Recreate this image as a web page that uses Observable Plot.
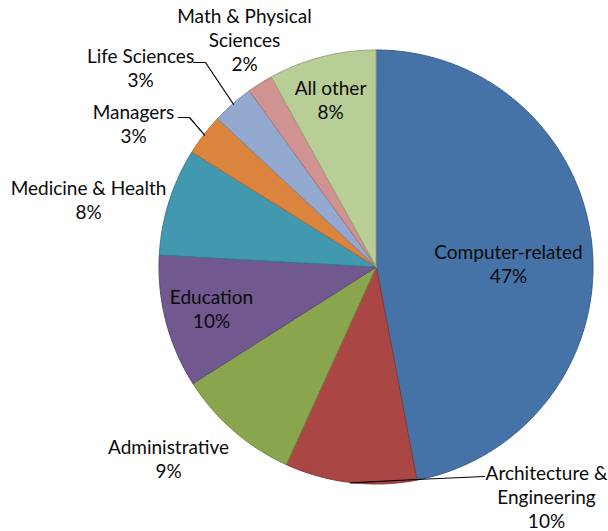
<!DOCTYPE html>
<html><head><meta charset="utf-8">
<script src="https://cdn.jsdelivr.net/npm/d3@7"></script>
<script src="https://cdn.jsdelivr.net/npm/@observablehq/plot@0.6"></script>
<style>body{margin:0;background:#fff}</style>
</head><body><div id="chart"></div>
<script>
// ---- data ----
const categories = ["Computer-related", "Architecture & Engineering", "Administrative", "Education", "Medicine & Health", "Managers", "Life Sciences", "Math & Physical Sciences", "All other"];
const shares = [47.0, 9.8, 9.2, 9.9, 8.0, 3.1, 3.1, 1.9, 8.0];
const percentLabels = ["47%", "10%", "9%", "10%", "8%", "3%", "3%", "2%", "8%"];
const labelNames = ["Computer-related", "Architecture &\nEngineering", "Administrative", "Education", "Medicine & Health", "Managers", "Life Sciences", "Math & Physical\nSciences", "All other"];
const colors = ["#4572A7", "#AA4643", "#89A54E", "#71588F", "#4198AF", "#DB843D", "#93A9CF", "#D19392", "#B9CD96"];

// ---- layout ----
const W = 608, H = 531, cx = 376, cy = 267, R = 217;
const labelLayout = [
  {x: 508, y: 263},
  {x: 546, y: 496, leader: [[484, 476], [416, 479]]},
  {x: 168, y: 458},
  {x: 211, y: 308},
  {x: 88, y: 199},
  {x: 133, y: 123, leader: [[178, 117], [189, 117]]},
  {x: 140, y: 67, leader: [[193, 62], [205, 62]]},
  {x: 244, y: 39},
  {x: 330, y: 99}
];

const arcs = d3.pie().sort(null).value(d => d)(shares);
const pt = (a, r) => [cx + r * Math.sin(a), cy - r * Math.cos(a)];

const sliceRows = [];
arcs.forEach((a, i) => {
  const n = Math.max(2, Math.ceil((a.endAngle - a.startAngle) / (Math.PI / 360)));
  for (let k = 0; k <= n; k++) {
    const ang = a.startAngle + (a.endAngle - a.startAngle) * k / n;
    const [x, y] = pt(ang, R);
    sliceRows.push({name: categories[i], x1: x, y1: y, x2: cx, y2: cy,
      fill: colors[i], stroke: d3.color(colors[i]).darker(0.6).formatHex()});
  }
});

const leaderRows = [];
labelLayout.forEach((l, i) => {
  if (!l.leader) return;
  const mid = (arcs[i].startAngle + arcs[i].endAngle) / 2;
  const end = pt(mid, R);
  [...l.leader, end].forEach(([x, y]) => leaderRows.push({name: categories[i], x, y}));
});

const textRows = labelLayout.map((l, i) => ({x: l.x, y: l.y, text: labelNames[i] + "\n" + percentLabels[i]}));

const chart = Plot.plot({
  width: W, height: H, margin: 0,
  x: {domain: [0, W], range: [0, W], axis: null},
  y: {domain: [0, H], range: [0, H], axis: null},
  color: {type: "identity"},
  style: {fontFamily: "Lato, sans-serif", background: "#fff"},
  marks: [
    Plot.area(sliceRows, {x1: "x1", y1: "y1", x2: "x2", y2: "y2", z: "name", fill: "fill", stroke: "stroke", strokeWidth: 1, strokeLinejoin: "round"}),
    Plot.line(leaderRows, {x: "x", y: "y", z: "name", stroke: "#000", strokeWidth: 1.2}),
    Plot.text(textRows, {x: "x", y: "y", text: "text", fontSize: 19, lineHeight: 1.27, fill: "#0a0a0a", textAnchor: "middle", lineAnchor: "middle"})
  ]
});
document.getElementById("chart").appendChild(chart);
</script>
</body></html>
